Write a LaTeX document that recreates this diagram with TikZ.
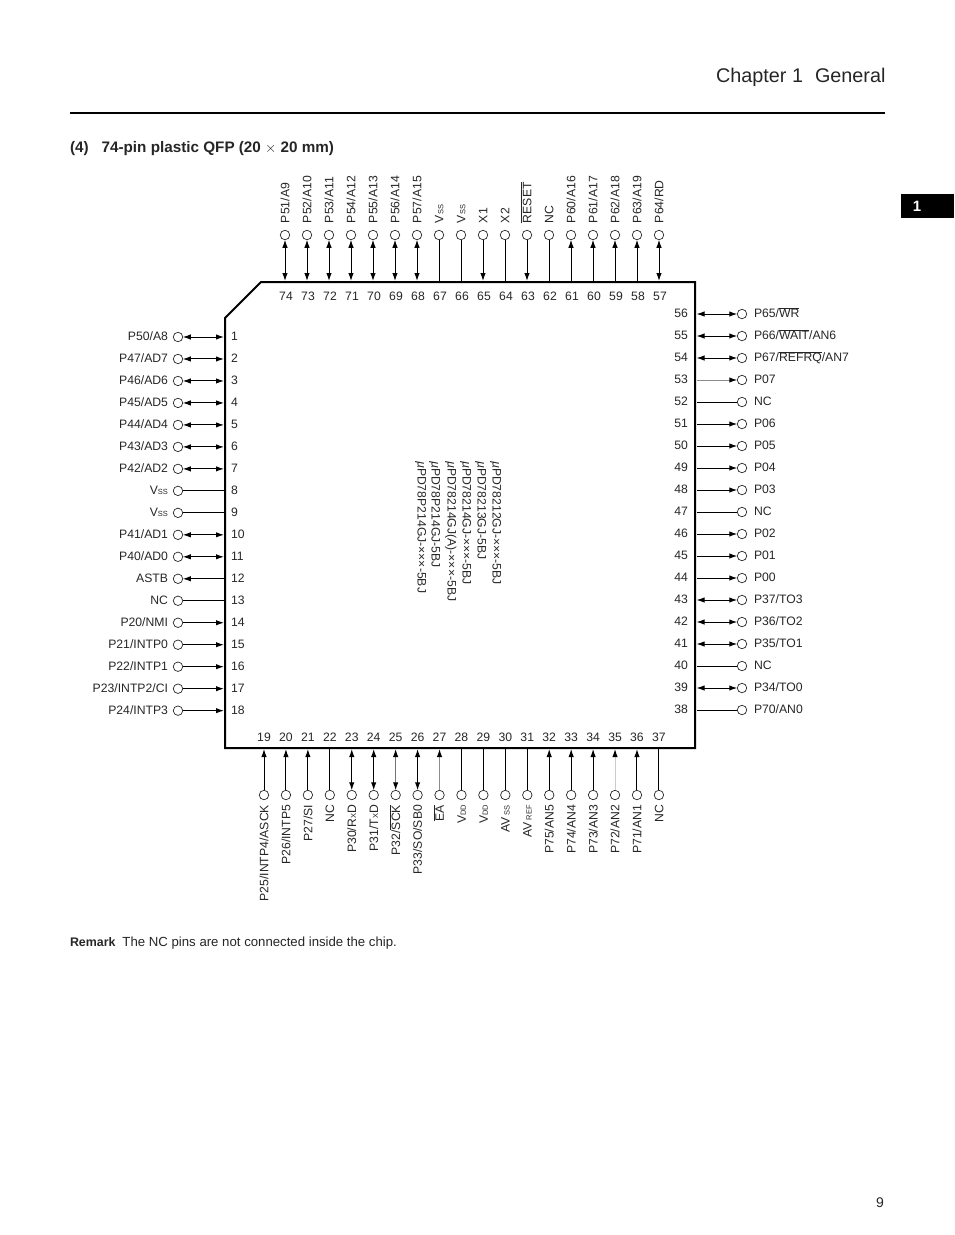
\documentclass[tikz,border=0pt]{standalone}
\usepackage{fontspec}
\setmainfont{Liberation Sans}
\usetikzlibrary{arrows.meta}
\newcommand{\ovl}[1]{$\overline{\mbox{#1}}$}
\newcommand{\smc}[1]{{\fontsize{7.5}{8}\selectfont #1}}
\tikzset{
  x=1pt,y=-1pt,
  every node/.style={inner sep=0pt,outer sep=0pt,text=black!85},
  pinhole/.style={circle,draw=black!85,line width=0.7pt,minimum size=9.5pt,fill=white},
  txt/.style={font=\fontsize{12.2}{14}\selectfont,text height=8.8pt,text depth=0pt},
  wire/.style={line width=1pt,draw=black},
  bothtip/.style={wire,{Latex[length=8pt,width=5.4pt,color=black]}-{Latex[length=8pt,width=5.4pt,color=black]}},
  towall/.style={wire,-{Latex[length=8pt,width=5.4pt,color=black]}},
  topin/.style={wire,{Latex[length=8pt,width=5.4pt,color=black]}-},
  plainw/.style={wire},
}
\newcommand{\lpin}[3]{%
  \node[pinhole] (p#1) at (178,{337+21.98*(#1-1)}) {};
  \coordinate (w#1) at (224,{337+21.98*(#1-1)});
  \node[txt,anchor=east] (l#1) at (168,{336.5+21.98*(#1-1)}) {#2};
  \node[txt,anchor=west] (n#1) at (231,{336.5+21.98*(#1-1)}) {#1};
  \draw[#3] (p#1) -- (w#1);}
\newcommand{\rpin}[3]{%
  \node[pinhole] (p#1) at (742,{314+22*(56-#1)}) {};
  \coordinate (w#1) at (696.5,{314+22*(56-#1)});
  \node[txt,anchor=west] (l#1) at (754,{313.5+22*(56-#1)}) {#2};
  \node[txt,anchor=east] (n#1) at (688,{313.5+22*(56-#1)}) {#1};
  \draw[#3] (p#1) -- (w#1);}
\newcommand{\tpin}[3]{%
  \node[pinhole] (p#1) at ({285+22*(74-#1)},235) {};
  \coordinate (w#1) at ({285+22*(74-#1)},281);
  \node[txt,anchor=west,rotate=90] (l#1) at ({285+22*(74-#1)},223) {#2};
  \node[txt] (n#1) at ({286+22*(74-#1)},296) {#1};
  \draw[#3] (p#1) -- (w#1);}
\newcommand{\bpin}[3]{%
  \node[pinhole] (p#1) at ({264+21.94*(#1-19)},795) {};
  \coordinate (w#1) at ({264+21.94*(#1-19)},749);
  \node[txt,anchor=east,rotate=90] (l#1) at ({264+21.94*(#1-19)},805) {#2};
  \node[txt] (n#1) at ({264+21.94*(#1-19)},737) {#1};
  \draw[#3] (p#1) -- (w#1);}
\begin{document}
\begin{tikzpicture}
\useasboundingbox (0,0) rectangle (954,1235);
% page furniture
\node[anchor=base east,font=\fontsize{19.8}{22}\selectfont] (chap) at (885.5,82) {Chapter 1\hspace{12pt}General};
\coordinate (ruleL) at (70,113); \coordinate (ruleR) at (885,113);
\draw[line width=2pt] (ruleL) -- (ruleR);
\node[anchor=base west,font=\bfseries\fontsize{15.25}{16}\selectfont] (head) at (70,152) {(4)\hspace{13pt}74-pin plastic QFP (20 {\normalfont$\times$} 20 mm)};
\fill[black] (901,194) rectangle (954,218);
\node[text=white,font=\bfseries\fontsize{15}{16}\selectfont] (tab) at (917,206) {1};
\node[anchor=base west,font=\fontsize{13.2}{14}\selectfont] (remark) at (70,946) {{\bfseries\fontsize{12.4}{14}\selectfont Remark}\hspace{7pt}The NC pins are not connected inside the chip.};
\node[font=\fontsize{14}{16}\selectfont,anchor=base] (pageno) at (880,1207) {9};
% chip
\draw[line width=2pt,line join=miter] (261,282) -- (695,282) -- (695,748) -- (225,748) -- (225,318) -- cycle;
% left
\lpin{1}{P50/A8}{bothtip}
\lpin{2}{P47/AD7}{bothtip}
\lpin{3}{P46/AD6}{bothtip}
\lpin{4}{P45/AD5}{bothtip}
\lpin{5}{P44/AD4}{bothtip}
\lpin{6}{P43/AD3}{bothtip}
\lpin{7}{P42/AD2}{bothtip}
\lpin{8}{V\smc{SS}}{plainw}
\lpin{9}{V\smc{SS}}{plainw}
\lpin{10}{P41/AD1}{bothtip}
\lpin{11}{P40/AD0}{bothtip}
\lpin{12}{ASTB}{topin}
\lpin{13}{NC}{plainw}
\lpin{14}{P20/NMI}{towall}
\lpin{15}{P21/INTP0}{towall}
\lpin{16}{P22/INTP1}{towall}
\lpin{17}{P23/INTP2/CI}{towall}
\lpin{18}{P24/INTP3}{towall}
% right
\rpin{56}{P65/\ovl{WR}}{bothtip}
\rpin{55}{P66/\ovl{WAIT}/AN6}{bothtip}
\rpin{54}{P67/\ovl{REFRQ}/AN7}{bothtip}
\rpin{53}{P07}{topin,draw=black!45}
\rpin{52}{NC}{plainw}
\rpin{51}{P06}{topin}
\rpin{50}{P05}{topin}
\rpin{49}{P04}{topin}
\rpin{48}{P03}{topin}
\rpin{47}{NC}{plainw}
\rpin{46}{P02}{topin}
\rpin{45}{P01}{topin}
\rpin{44}{P00}{topin}
\rpin{43}{P37/TO3}{bothtip}
\rpin{42}{P36/TO2}{bothtip}
\rpin{41}{P35/TO1}{bothtip}
\rpin{40}{NC}{plainw}
\rpin{39}{P34/TO0}{bothtip}
\rpin{38}{P70/AN0}{plainw}
% top
\tpin{74}{P51/A9}{bothtip}
\tpin{73}{P52/A10}{bothtip}
\tpin{72}{P53/A11}{bothtip}
\tpin{71}{P54/A12}{bothtip}
\tpin{70}{P55/A13}{bothtip}
\tpin{69}{P56/A14}{bothtip}
\tpin{68}{P57/A15}{bothtip}
\tpin{67}{V\smc{SS}}{plainw}
\tpin{66}{V\smc{SS}}{plainw}
\tpin{65}{X1}{towall}
\tpin{64}{X2}{plainw}
\tpin{63}{\ovl{RESET}}{towall}
\tpin{62}{NC}{plainw}
\tpin{61}{P60/A16}{topin}
\tpin{60}{P61/A17}{topin}
\tpin{59}{P62/A18}{topin}
\tpin{58}{P63/A19}{topin}
\tpin{57}{P64/RD}{bothtip}
% bottom
\bpin{19}{P25/INTP4/ASCK}{towall}
\bpin{20}{P26/INTP5}{towall}
\bpin{21}{P27/SI}{towall}
\bpin{22}{NC}{plainw}
\bpin{23}{P30/R\smc{X}D}{bothtip}
\bpin{24}{P31/T\smc{X}D}{bothtip}
\bpin{25}{P32/\ovl{SCK}}{bothtip,draw=black!55}
\bpin{26}{P33/SO/SB0}{bothtip}
\bpin{27}{\ovl{EA}}{towall,draw=black!45}
\bpin{28}{V\smc{DD}}{plainw}
\bpin{29}{V\smc{DD}}{plainw}
\bpin{30}{AV\,\smc{SS}}{plainw}
\bpin{31}{AV\,\smc{REF}}{plainw}
\bpin{32}{P75/AN5}{towall}
\bpin{33}{P74/AN4}{towall}
\bpin{34}{P73/AN3}{towall}
\bpin{35}{P72/AN2}{towall,draw=black!20}
\bpin{36}{P71/AN1}{towall}
\bpin{37}{NC}{plainw}
% part numbers
\tikzset{partno/.style={txt,anchor=west,rotate=-90}}
\node[partno] (c1) at (497,461) {\textit{µ}PD78212GJ-×××-5BJ};
\node[partno] (c2) at (482,461) {\textit{µ}PD78213GJ-5BJ};
\node[partno] (c3) at (467,461) {\textit{µ}PD78214GJ-×××-5BJ};
\node[partno] (c4) at (452,461) {\textit{µ}PD78214GJ(A)-×××-5BJ};
\node[partno] (c5) at (436,461) {\textit{µ}PD78P214GJ-5BJ};
\node[partno] (c6) at (422,461) {\textit{µ}PD78P214GJ-×××-5BJ};
\end{tikzpicture}
\end{document}
